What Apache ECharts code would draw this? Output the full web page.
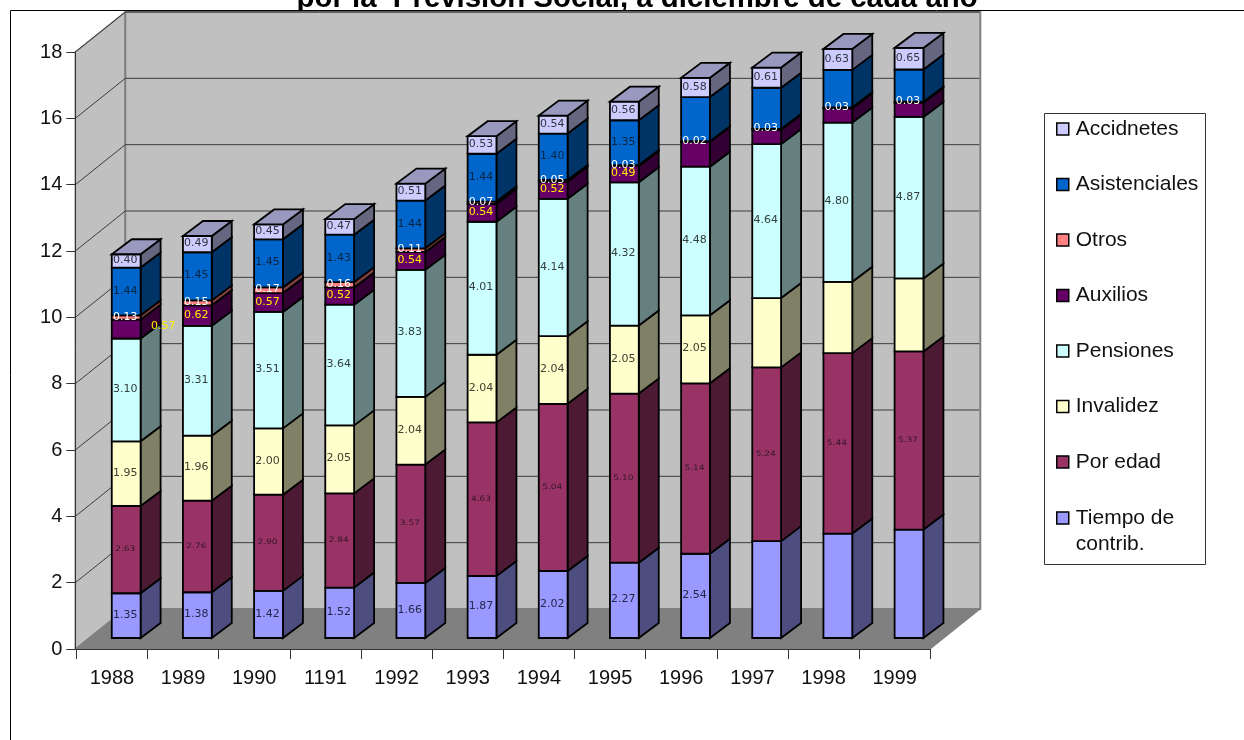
<!DOCTYPE html>
<html>
<head>
<meta charset="utf-8">
<style>html,body{margin:0;padding:0;background:#fff}#chart{width:1244px;height:740px}</style>
<script src="https://cdn.jsdelivr.net/npm/echarts@6/dist/echarts.min.js"></script>
</head>
<body>
<div id="chart"></div>
<script>
// Afiliados a la Previsión Social por tipo de pensión, 1988-1999
const years = ['1988','1989','1990','1191','1992','1993','1994','1995','1996','1997','1998','1999'];
const yTicks = [0,2,4,6,8,10,12,14,16,18];

const tiempo        = [1.35,1.38,1.42,1.52,1.66,1.87,2.02,2.27,2.54,2.92,3.15,3.27];
const porEdad       = [2.63,2.76,2.90,2.84,3.57,4.63,5.04,5.10,5.14,5.24,5.44,5.37];
const invalidez     = [1.95,1.96,2.00,2.05,2.04,2.04,2.04,2.05,2.05,2.09,2.15,2.20];
const pensiones     = [3.10,3.31,3.51,3.64,3.83,4.01,4.14,4.32,4.48,4.64,4.80,4.87];
const auxilios      = [0.57,0.62,0.57,0.52,0.54,0.54,0.52,0.49,0.75,0.43,0.43,0.43];
const otros         = [0.13,0.15,0.17,0.16,0.11,0.07,0.05,0.03,0.02,0.03,0.03,0.03];
const asistenciales = [1.44,1.45,1.45,1.43,1.44,1.44,1.40,1.35,1.33,1.24,1.13,0.97];
const accidentes    = [0.40,0.49,0.45,0.47,0.51,0.53,0.54,0.56,0.58,0.61,0.63,0.65];

// Stacking order, bottom to top: name, values, front/side/top shades, label ink and size
const stacks = [
  {name:'Tiempo de contrib.', values:tiempo,        front:'#9999FF', side:'#4D4D80', top:'#7373BF', ink:'#26264d', size:10,  stretch:1.1},
  {name:'Por edad',           values:porEdad,       front:'#993366', side:'#4D1A33', top:'#73264D', ink:'#33142b', size:7.5, stretch:1.2},
  {name:'Invalidez',          values:invalidez,     front:'#FFFFCC', side:'#808066', top:'#BFBF99', ink:'#404033', size:10,  stretch:1.1},
  {name:'Pensiones',          values:pensiones,     front:'#CCFFFF', side:'#668080', top:'#99BFBF', ink:'#334040', size:10,  stretch:1.1},
  {name:'Auxilios',           values:auxilios,      front:'#660066', side:'#330033', top:'#4D004D', ink:'#FFEE00', size:10,  stretch:1.1},
  {name:'Otros',              values:otros,         front:'#FF8080', side:'#804040', top:'#BF6060', ink:'#FFFFFF', size:10,  stretch:1.1},
  {name:'Asistenciales',      values:asistenciales, front:'#0066CC', side:'#003366', top:'#004D99', ink:'#0a2440', size:10,  stretch:1.1},
  {name:'Accidnetes',         values:accidentes,    front:'#CCCCFF', side:'#666680', top:'#9999BF', ink:'#333340', size:10,  stretch:1.1}
];

// Segments whose value is not printed on the bar
const unlabelled = {
  'Tiempo de contrib.': ['1997','1998','1999'],
  'Invalidez': ['1997','1998','1999'],
  'Auxilios': ['1996','1997','1998','1999'],
  'Asistenciales': ['1996','1997','1998','1999']
};

// Oblique projection of the plot box and of the bars inside it
const WALL_DX = 50, WALL_DY = -40;
const BAR_DX = 14.3, BAR_DY = -11;
const SIDE_DX = 20, SIDE_DY = -15;
const BAR_SHARE = 0.405;
const EDGE = {stroke:'#000', lineWidth:1.8, lineJoin:'miter'};

const chart = echarts.init(document.getElementById('chart'));

function renderWalls(params, api) {
  const tick = api.value(0);
  const cs = params.coordSys;
  const x0 = cs.x - 1, x1 = cs.x + cs.width;
  const y = api.coord([0, tick])[1];
  const children = [];
  if (tick === yTicks[0]) {
    const yTop = api.coord([0, yTicks[yTicks.length - 1]])[1];
    const wall = {fill:'#C0C0C0', stroke:'#808080', lineWidth:2};
    children.push({type:'polygon', z2:0, shape:{points:[[x0,y],[x0,yTop],[x0+WALL_DX,yTop+WALL_DY],[x0+WALL_DX,y+WALL_DY]]},
      style:{fill:'#C0C0C0', stroke:'#808080', lineWidth:1.5}});
    children.push({type:'rect', z2:0, shape:{x:x0+WALL_DX, y:yTop+WALL_DY, width:x1-x0, height:y-yTop}, style:wall});
    children.push({type:'polygon', z2:1, shape:{points:[[x0,y],[x1,y],[x1+WALL_DX,y+WALL_DY],[x0+WALL_DX,y+WALL_DY]]},
      style:{fill:'#808080', stroke:'#808080', lineWidth:1}});
  } else {
    children.push({type:'polyline', z2:2, shape:{points:[[x0,y],[x0+WALL_DX,y+WALL_DY],[x1+WALL_DX-1,y+WALL_DY]]},
      style:{fill:null, stroke:'#3c3c3c', lineWidth:1}});
  }
  return {type:'group', children};
}

function renderSegment(stack, isTop) {
  return function (params, api) {
    const i = api.value(0), base = api.value(1), val = api.value(2);
    const band = api.size([1, 0])[0];
    const w = band * BAR_SHARE;
    const a = api.coord([i, base]), b = api.coord([i, base + val]);
    const xL = a[0] + BAR_DX - w / 2, xR = xL + w;
    const yB = a[1] + BAR_DY, yT = b[1] + BAR_DY;
    const children = [
      {type:'polygon', z2:1, shape:{points:[[xR,yB],[xR+SIDE_DX,yB+SIDE_DY],[xR+SIDE_DX,yT+SIDE_DY],[xR,yT]]},
        style:Object.assign({fill:stack.side}, EDGE)},
      {type:'rect', z2:2, shape:{x:xL, y:yT, width:w, height:yB-yT},
        style:Object.assign({fill:stack.front}, EDGE)}
    ];
    if (isTop) {
      children.push({type:'polygon', z2:2, shape:{points:[[xL,yT],[xR,yT],[xR+SIDE_DX,yT+SIDE_DY],[xL+SIDE_DX,yT+SIDE_DY]]},
        style:Object.assign({fill:stack.top}, EDGE)});
    }
    const year = years[i];
    if (!(unlabelled[stack.name] || []).includes(year)) {
      // 0.57 of 1988 is printed beside its bar instead of on it
      const aside = stack.name === 'Auxilios' && year === '1988';
      children.push({type:'text', z2:20,
        x: (xL + xR) / 2 - 1 + (aside ? 38 : 0),
        y: (yB + yT) / 2 - (aside ? 3 : 0.5),
        scaleX: stack.stretch,
        style:{x:0, y:0, text:val.toFixed(2), fill:stack.ink, align:'center', verticalAlign:'middle',
          font: stack.size + 'px "DejaVu Sans"'}});
    }
    return {type:'group', children};
  };
}

const barSeries = stacks.map((stack, s) => {
  const rows = years.map((_, i) => {
    let base = 0;
    for (let k = 0; k < s; k++) base += stacks[k].values[i];
    return [i, base, stack.values[i]];
  });
  return {
    type:'custom', name:stack.name, coordinateSystem:'cartesian2d', z:3, clip:false,
    itemStyle:{color:stack.front},
    encode:{x:0, y:[1,2]},
    renderItem:renderSegment(stack, s === stacks.length - 1),
    data:rows
  };
});

// Shared look of the two legend blocks; the wrapped last entry has its own block
const legendBase = {
  orient:'vertical', left:1056, padding:0, itemWidth:12, itemHeight:12,
  icon:'rect', selectedMode:false, z:4,
  itemStyle:{borderColor:'#000', borderWidth:1.5}
};
const legendFont = {fontFamily:'"Liberation Sans"', fontSize:21, color:'#111'};
const legendNames = stacks.map(st => st.name).reverse();

chart.setOption({
  animation:false,
  backgroundColor:'#fff',
  title:{
    text:'por la  Previsión Social, a diciembre de cada año',
    left:296.5, top:-16, z:0, padding:0,
    textStyle:{fontFamily:'"Liberation Sans"', fontWeight:'bold', fontSize:29.4, color:'#000'}
  },
  grid:{left:76.3, top:52, width:854, height:597, containLabel:false},
  xAxis:{
    type:'category', data:years, z:4,
    axisLine:{lineStyle:{color:'#333', width:1}},
    axisTick:{show:true, length:10, alignWithLabel:false, lineStyle:{color:'#333'}},
    axisLabel:{fontFamily:'"Liberation Sans"', fontSize:20, color:'#111', margin:19, interval:0},
    splitLine:{show:false}
  },
  yAxis:{
    type:'value', min:0, max:18, interval:2, offset:1, z:4,
    axisLine:{show:true, lineStyle:{color:'#333', width:1}},
    axisTick:{show:true, length:9, lineStyle:{color:'#333'}},
    axisLabel:{fontFamily:'"Liberation Sans"', fontSize:20, color:'#111', margin:13, padding:[2,0,0,0]},
    splitLine:{show:false}
  },
  legend:[
    Object.assign({}, legendBase, {
      top:118.5, itemGap:34.5,
      textStyle:Object.assign({padding:[0,0,0,2]}, legendFont),
      data:legendNames.slice(0, -1)
    }),
    Object.assign({}, legendBase, {
      top:479,
      textStyle:Object.assign({padding:[0,0,0,2], lineHeight:26}, legendFont),
      data:legendNames.slice(-1),
      // The empty first line keeps the marker level with "Tiempo de"
      formatter:() => '\u00a0\nTiempo de\ncontrib.'
    })
  ],
  graphic:{
    z:1,
    elements:[
      {type:'rect', shape:{x:0, y:10.5, width:1244, height:730}, style:{fill:'#fff'}},
      {type:'rect', z:1, shape:{x:10.5, y:10.5, width:1300, height:800}, style:{fill:'#fff', stroke:'#000', lineWidth:1}},
      {type:'rect', z:1, shape:{x:1044.5, y:113.5, width:161, height:451}, style:{fill:'#fff', stroke:'#333', lineWidth:1}}
    ]
  },
  series:[{
    type:'custom', name:'planos', coordinateSystem:'cartesian2d', z:1, clip:false, silent:true,
    encode:{y:0}, renderItem:renderWalls, data:yTicks.map(t => [t])
  }].concat(barSeries)
});
</script>
</body>
</html>
